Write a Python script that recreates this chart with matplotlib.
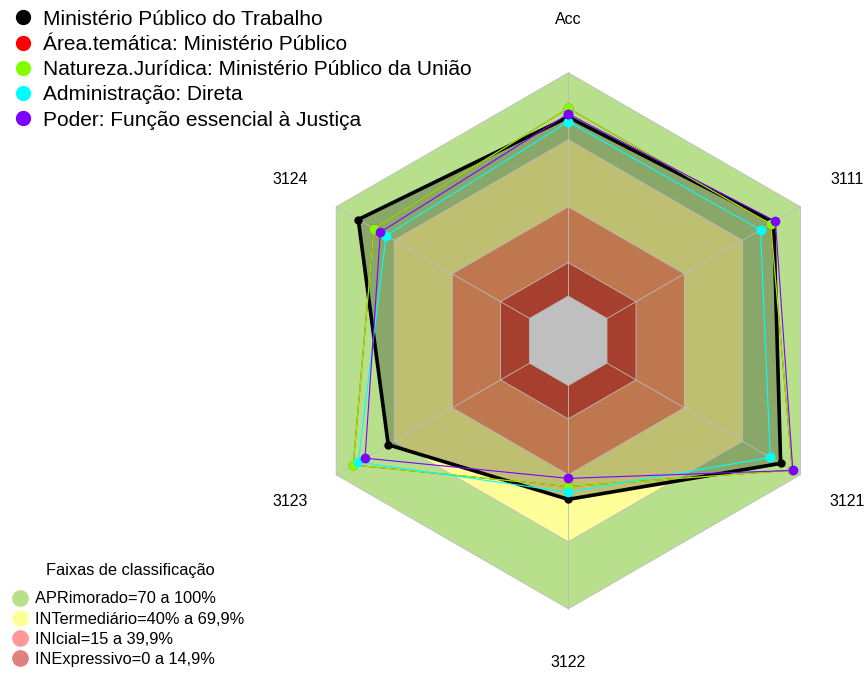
import numpy as np
import matplotlib.pyplot as plt
from matplotlib.lines import Line2D

plt.rcParams['font.family'] = ['Liberation Sans', 'DejaVu Sans']

# eixos do radar (sentido horario a partir do topo)
eixos = ['Acc', '3111', '3121', '3122', '3123', '3124']

# valores (%)
mpt = [80.2, 86.2, 89.8, 51.0, 73.1, 88.6]
area_tematica = [84.1, 84.6, 95.8, 45.3, 91.2, 80.5]
natureza = [84.1, 84.6, 95.8, 45.3, 91.2, 80.5]
administracao = [78.1, 79.4, 84.4, 47.8, 88.6, 74.2]
poder = [81.6, 87.1, 96.1, 41.6, 85.1, 77.2]

nomes = ['Ministério Público do Trabalho',
         'Área.temática: Ministério Público',
         'Natureza.Jurídica: Ministério Público da União',
         'Administração: Direta',
         'Poder: Função essencial à Justiça']
cores = ['black', '#ff0000', '#80ff00', '#00ffff', '#8000ff']

# faixas de classificacao
faixas_lim = [100, 70, 40, 15, 0]
faixas_cor = ['#b8e08c', '#ffff99', '#ffa06b', '#e05540', 'white']
faixas_nome = ['APRimorado=70 a 100%', 'INTermediário=40% a 69,9%',
               'INIcial=15 a 39,9%', 'INExpressivo=0 a 14,9%']
faixas_leg_cor = ['#b8e08a', '#ffff99', '#ff9999', '#e08080']

vmin, vmax = -20, 100
theta = np.pi / 2 - np.arange(len(eixos)) * np.pi / 3


def xy(vals):
    u = (np.asarray(vals, dtype=float) - vmin) / (vmax - vmin)
    return u * np.cos(theta), u * np.sin(theta)


def fechar(x, y):
    return np.append(x, x[0]), np.append(y, y[0])


fig = plt.figure(figsize=(8.68, 6.73), dpi=100)
ax = fig.add_axes([0, 0, 1, 1])
ax.set_xlim(-2.1205, 1.1183)
ax.set_ylim(-1.2396, 1.2716)
ax.axis('off')

# fundo com as faixas
for lim, c in zip(faixas_lim, faixas_cor):
    x, y = xy([lim] * len(eixos))
    ax.fill(x, y, color=c, lw=0, zorder=1)

# area da unidade principal
x, y = xy(mpt)
ax.fill(x, y, color='black', alpha=0.25, lw=0, zorder=2)

# grade
for lim in faixas_lim:
    x, y = fechar(*xy([lim] * len(eixos)))
    ax.plot(x, y, color='#bdbdbd', lw=0.6, zorder=3)
x0, y0 = xy([0] * len(eixos))
x1, y1 = xy([100] * len(eixos))
for i in range(len(eixos)):
    ax.plot([x0[i], x1[i]], [y0[i], y1[i]], color='#bdbdbd', lw=0.6, zorder=3)

series = [mpt, area_tematica, natureza, administracao, poder]
for k, (vals, c) in enumerate(zip(series, cores)):
    x, y = fechar(*xy(vals))
    if k == 0:
        ax.plot(x, y, color=c, lw=2.6, marker='o', ms=5, zorder=4)
    else:
        ax.plot(x, y, color=c, lw=0.8, marker='o', ms=6, zorder=4 + k)

# rotulos dos eixos
for t, nome in zip(theta, eixos):
    ax.text(1.2 * np.cos(t), 1.2 * np.sin(t), nome, ha='center', va='center',
            fontsize=11.5)

h1 = [Line2D([], [], marker='o', ls='', color=c, markersize=10) for c in cores]
fig.legend(h1, nomes, loc='upper left', bbox_to_anchor=(0.005, 0.998),
           frameon=False, fontsize=15, handlelength=1.0,
           handletextpad=0.45, labelspacing=0.3, borderaxespad=0.0)

h2 = [Line2D([], [], marker='o', ls='', color=c, markersize=11)
      for c in faixas_leg_cor]
fig.legend(h2, faixas_nome, loc='lower left', bbox_to_anchor=(0.01, 0.004),
           frameon=False, fontsize=11.8, handlelength=1.0, handletextpad=0.4,
           labelspacing=0.32, borderaxespad=0.0, borderpad=0.2)
fig.text(0.15, 1 - 571 / 673, 'Faixas de classificação', ha='center',
         va='center', fontsize=11.8)

fig.savefig('out.png', dpi=100)
